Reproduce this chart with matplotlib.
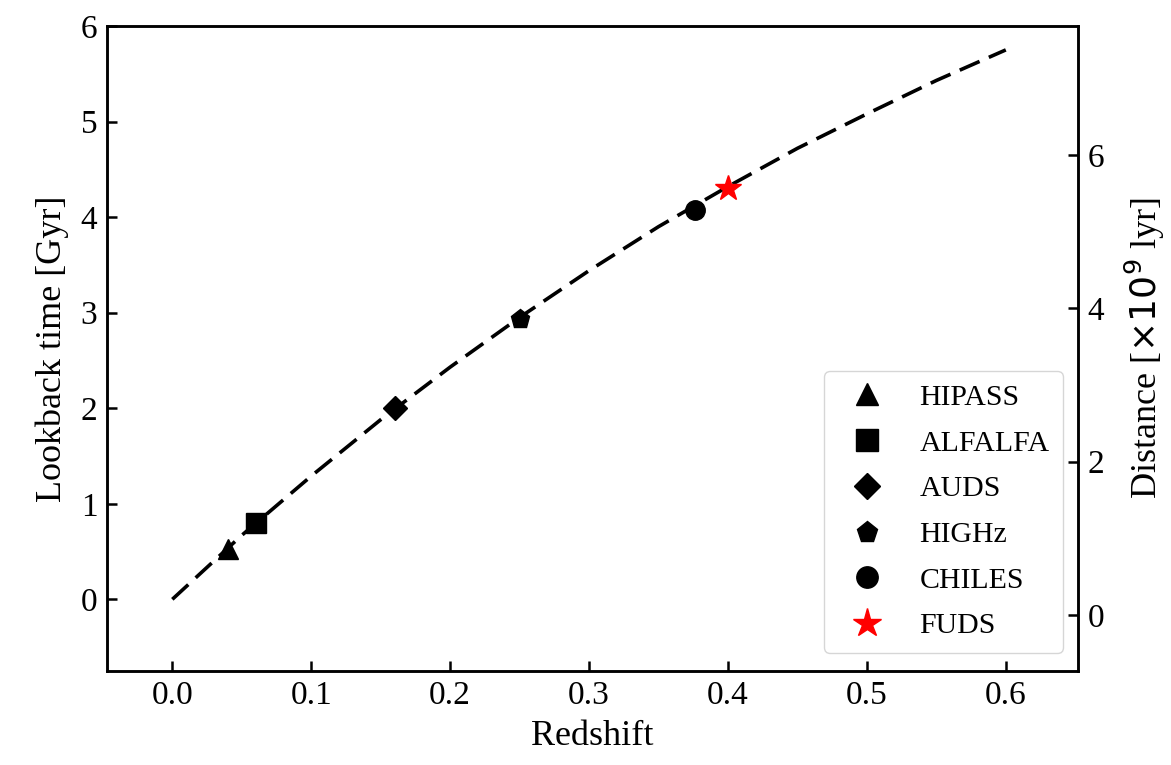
import matplotlib
matplotlib.use('Agg')
import matplotlib.pyplot as plt

plt.rcParams['font.family'] = ['Liberation Serif', 'DejaVu Sans']
plt.rcParams['mathtext.fontset'] = 'dejavusans'

# lookback-time curve
curve_z = [0.0, 0.05, 0.10, 0.15, 0.20, 0.25, 0.30, 0.35, 0.40, 0.45, 0.50, 0.55, 0.60]
curve_t = [0.0, 0.67, 1.29, 1.88, 2.43, 2.95, 3.44, 3.90, 4.32, 4.72, 5.08, 5.43, 5.75]

# surveys
surveys = ['HIPASS', 'ALFALFA', 'AUDS', 'HIGHz', 'CHILES', 'FUDS']
survey_z = [0.04, 0.06, 0.16, 0.25, 0.376, 0.40]
survey_t = [0.53, 0.80, 2.00, 2.93, 4.07, 4.30]
markers = ['^', 's', 'D', 'p', 'o', '*']
colors = ['black', 'black', 'black', 'black', 'black', 'red']
sizes = [14, 14, 12, 14, 14, 19]

fig = plt.figure(figsize=(11.71, 7.65), dpi=100)
ax = fig.add_axes([0.0914, 0.1229, 0.8292, 0.8431])

ax.plot(curve_z, curve_t, color='black', lw=2.6, linestyle=(0, (6, 2.8)), zorder=2)
for name, z, t, m, c, s in zip(surveys, survey_z, survey_t, markers, colors, sizes):
    ax.plot(z, t, linestyle='none', marker=m, color=c, ms=s, label=name, zorder=3)

ax.set_xlim(-0.047, 0.652)
ax.set_ylim(-0.75, 6)
ax.set_xticks([0.0, 0.1, 0.2, 0.3, 0.4, 0.5, 0.6])
ax.set_xticklabels(['0.0', '0.1', '0.2', '0.3', '0.4', '0.5', '0.6'])
ax.set_yticks([0, 1, 2, 3, 4, 5, 6])
ax.set_xlabel('Redshift', fontsize=26, labelpad=6)
ax.set_ylabel('Lookback time [Gyr]', fontsize=26, labelpad=8)
ax.tick_params(direction='in', length=7, width=1.8, labelsize=24, pad=7)

ax2 = ax.twinx()
ax2.set_ylim(-0.73, 7.68)
ax2.set_yticks([0, 2, 4, 6])
ax2.set_ylabel(r'Distance [$\times 10^9$ lyr]', fontsize=26, labelpad=13)
ax2.tick_params(direction='in', length=7, width=1.8, labelsize=24, pad=7)

for a in (ax, ax2):
    for sp in a.spines.values():
        sp.set_linewidth(1.8)

leg = ax.legend(loc='lower right', fontsize=21.5, markerscale=1.1, handletextpad=0.75,
                labelspacing=0.63, borderpad=0.45, borderaxespad=0,
                bbox_to_anchor=(0.9846, 0.028))
leg.get_frame().set_edgecolor('#cccccc')

fig.savefig('out.png', dpi=100)
